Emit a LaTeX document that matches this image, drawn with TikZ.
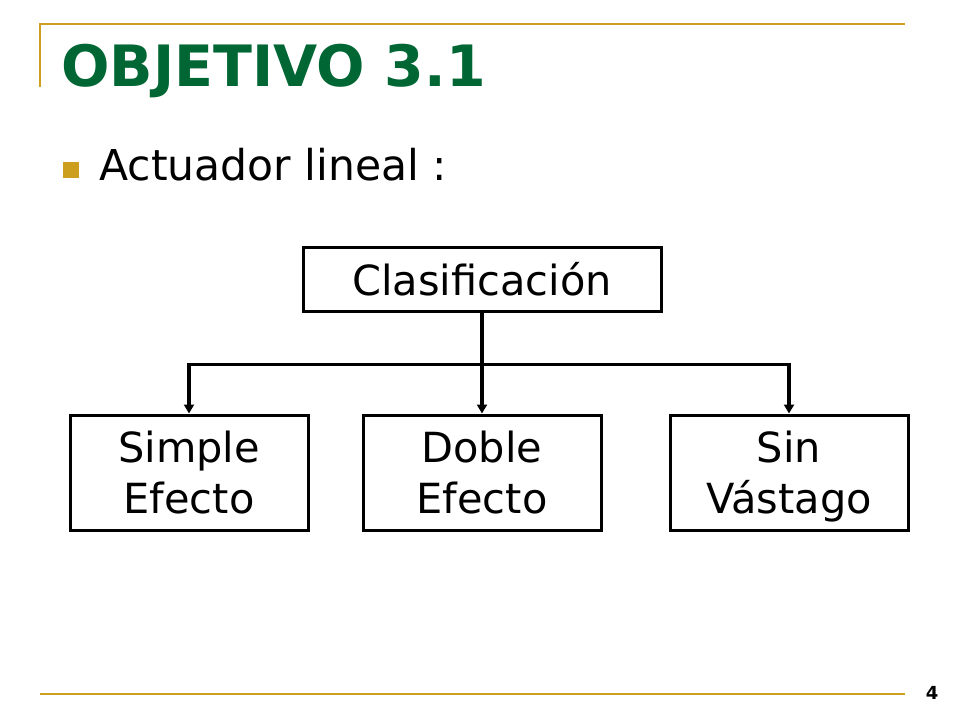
\documentclass[tikz,border=0pt]{standalone}
\usepackage{fontspec}
\setmainfont{DejaVu Sans}
\usepackage{tikz}
\usetikzlibrary{arrows.meta,positioning}
\definecolor{titlegreen}{RGB}{0,102,51}
\definecolor{slidegold}{RGB}{204,160,30}

\begin{document}
\begin{tikzpicture}[
        line width=3pt,
        goldline/.style={
                draw=slidegold,
                line width=2pt
            },
        bullet/.style={
                fill=slidegold,
                minimum size=16pt,
                inner sep=0pt
            },
        topic/.style={
                draw=black,
                minimum width=358pt,
                minimum height=64pt,
                inner sep=0pt,
                font=\fontsize{41.5}{51}\selectfont
            },
        subtopic/.style={
                draw=black,
                minimum width=238pt,
                minimum height=115pt,
                inner sep=0pt,
                text depth=0pt,
                align=center,
                font=\fontsize{41.5}{51}\selectfont
            },
        branch/.style={
                draw=black,
                line width=3.6pt,
                -{Triangle[length=9pt,width=10pt]}
            },
    ]
    \useasboundingbox (0,0) rectangle (960pt,-720pt);
    % Frame
    \draw[goldline] (40pt,-87pt) -- (40pt,-24pt) -- (905pt,-24pt);
    \draw[goldline] (40pt,-694pt) -- (905pt,-694pt);
    \node[anchor=base] (page) at (932pt,-699pt) {\fontsize{18}{18}\selectfont\bfseries 4};
    % Title
    \node[anchor=base west, inner sep=0pt, text=titlegreen] (title) at (60pt,-86pt)
        {\fontsize{57}{60}\selectfont\bfseries OBJETIVO 3.1};
    \node[bullet] (bul) at (71pt,-170pt) {};
    \node[anchor=base west, inner sep=0pt] (item) at (98pt,-180pt)
        {\fontsize{42.5}{51}\selectfont Actuador lineal :};
    % Topic
    \node[topic] (clas) at (482pt,-279pt) {Clasificación};
    \node[subtopic, below=101pt of clas] (doble) {Doble\\Efecto};
    \node[subtopic, left=52pt of doble] (simple) {Simple\\Efecto};
    \node[subtopic, right=66pt of doble] (sin) {Sin\\Vástago};
    % Branches
    \draw[branch] (clas.south) -- ++(0,-52pt) -| (simple.north);
    \draw[branch] (clas.south) -- (doble.north);
    \draw[branch] (clas.south) -- ++(0,-52pt) -| (sin.north);
\end{tikzpicture}
\end{document}
